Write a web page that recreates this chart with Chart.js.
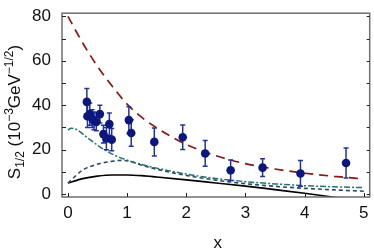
<!DOCTYPE html>
<html>
<head>
<meta charset="utf-8">
<script src="https://cdn.jsdelivr.net/npm/chart.js@4.4.1/dist/chart.umd.min.js"></script>
<style>
  html, body { margin: 0; padding: 0; background: #ffffff; }
  #wrap { width: 374px; height: 249px; }
</style>
</head>
<body>
<div id="wrap"><canvas id="chart" width="374" height="249"></canvas></div>
<script>
// measured points with symmetric errors
const dataX   = [0.32, 0.33, 0.37, 0.41, 0.44, 0.48, 0.54, 0.60, 0.65, 0.70, 0.74, 1.03, 1.07, 1.46, 1.94, 2.32, 2.75, 3.29, 3.93, 4.70];
const dataY   = [41.5, 35.0, 36.0, 34.0, 33.0, 32.5, 36.0, 27.0, 25.0, 31.5, 24.5, 33.3, 27.5, 23.5, 25.6, 18.3, 10.7, 11.9, 9.3, 14.0];
const dataErr = [6.0, 5.0, 5.0, 4.0, 4.0, 4.0, 4.0, 4.0, 5.0, 5.0, 5.0, 6.0, 6.0, 6.3, 5.5, 5.8, 4.6, 4.0, 5.8, 6.8];

// model curves
const redX   = [0, 0.25, 0.5, 0.75, 1, 1.25, 1.5, 1.75, 2, 2.5, 3, 3.5, 4, 4.5, 5];
const redY   = [80, 68, 57.5, 48.5, 40.5, 34.5, 29.8, 25.8, 22.3, 17.3, 13.7, 11.3, 9.4, 8, 6.8];

const tealX  = [0, 0.05, 0.15, 0.3, 0.5, 0.75, 1, 1.25, 1.5, 1.75, 2, 2.5, 3, 3.5, 4, 4.5, 5];
const tealY  = [28.8, 29.6, 29, 26, 22, 18, 15.3, 13.3, 11.7, 10.3, 9, 7, 5.6, 4.6, 3.8, 3.3, 2.9];

const navyX  = [0, 0.25, 0.5, 0.75, 0.9, 1, 1.25, 1.5, 1.75, 2, 2.5, 3, 3.5, 4, 4.5, 5];
const navyY  = [5, 10.8, 13.5, 14.8, 15.2, 15, 13, 11.2, 9.7, 8.4, 6.3, 4.7, 3.5, 2.6, 1.9, 1.3];

const blackX = [0, 0.25, 0.5, 0.75, 1, 1.25, 1.5, 2, 2.5, 3, 3.5, 4, 4.5, 5];
const blackY = [5, 7, 8.1, 8.6, 8.6, 8.3, 7.7, 6.4, 5.0, 3.6, 2.0, 0.4, -1.4, -3];

const xTicks = [0, 1, 2, 3, 4, 5];
const yTicks = [0, 20, 40, 60, 80];
const yMinor = [0, 10, 20, 30, 40, 50, 60, 70, 80];

const pts = (xs, ys) => xs.map((x, i) => ({ x: x, y: ys[i] }));

const FONT = "'Liberation Sans', Arial, sans-serif";

// error bars, inward ticks, frame and axis titles
const decorPlugin = {
  id: 'decor',
  beforeDatasetDraw(chart, args) {
    if (args.index !== 0) return;
    const ctx = chart.ctx;
    const xs = chart.scales.x, ys = chart.scales.y;
    ctx.save();
    ctx.strokeStyle = '#23339e';
    ctx.lineWidth = 1.5;
    dataX.forEach((x, i) => {
      const px = xs.getPixelForValue(x);
      const top = ys.getPixelForValue(dataY[i] + dataErr[i]);
      const bot = ys.getPixelForValue(dataY[i] - dataErr[i]);
      ctx.beginPath();
      ctx.moveTo(px, top); ctx.lineTo(px, bot);
      ctx.moveTo(px - 2.5, top); ctx.lineTo(px + 2.5, top);
      ctx.moveTo(px - 2.5, bot); ctx.lineTo(px + 2.5, bot);
      ctx.stroke();
    });
    ctx.restore();
  },
  afterDraw(chart) {
    const ctx = chart.ctx;
    const a = chart.chartArea;
    const xs = chart.scales.x, ys = chart.scales.y;
    ctx.save();
    // frame
    ctx.strokeStyle = '#6e6e6e';
    ctx.lineWidth = 1.5;
    ctx.strokeRect(a.left, a.top, a.right - a.left, a.bottom - a.top);
    // ticks
    ctx.strokeStyle = '#222';
    ctx.lineWidth = 1;
    ctx.beginPath();
    yMinor.forEach(v => {
      const py = Math.round(ys.getPixelForValue(v)) + 0.5;
      ctx.moveTo(a.left, py); ctx.lineTo(a.left + 4, py);
      ctx.moveTo(a.right, py); ctx.lineTo(a.right - 3, py);
    });
    xTicks.forEach(v => {
      const px = Math.round(xs.getPixelForValue(v)) + 0.5;
      ctx.moveTo(px, a.bottom); ctx.lineTo(px, a.bottom - 4);
    });
    ctx.stroke();

    // x title
    ctx.fillStyle = '#111';
    ctx.font = '17px ' + FONT;
    ctx.textAlign = 'center';
    ctx.textBaseline = 'alphabetic';
    ctx.fillText('x', (a.left + a.right) / 2 + 2, 248);

    // y title with sub/superscripts
    const parts = [
      { t: 'S', s: 17, dy: 0 },
      { t: '1/2', s: 12, dy: 4 },
      { t: ' (10', s: 17, dy: 0 },
      { t: '\u22123', s: 12, dy: -7 },
      { t: 'GeV', s: 17, dy: 0 },
      { t: '\u22121/2', s: 12, dy: -7 },
      { t: ')', s: 17, dy: 0 }
    ];
    let total = 0;
    parts.forEach(p => { ctx.font = p.s + 'px ' + FONT; p.w = ctx.measureText(p.t).width; total += p.w; });
    ctx.translate(20, 112);
    ctx.rotate(-Math.PI / 2);
    ctx.textAlign = 'left';
    let cx = -total / 2;
    parts.forEach(p => {
      ctx.font = p.s + 'px ' + FONT;
      ctx.fillText(p.t, cx, p.dy);
      cx += p.w;
    });
    ctx.restore();
  }
};

const lineDs = (label, xs, ys, color, dash, width) => ({
  type: 'line',
  label: label,
  data: pts(xs, ys),
  borderColor: color,
  borderWidth: width,
  borderDash: dash,
  pointRadius: 0,
  fill: false,
  cubicInterpolationMode: 'monotone'
});

new Chart(document.getElementById('chart').getContext('2d'), {
  type: 'scatter',
  data: {
    datasets: [
      {
        label: 'data',
        data: pts(dataX, dataY),
        backgroundColor: '#0b177c',
        borderColor: '#0b177c',
        pointRadius: 4.3,
        pointBorderWidth: 0
      },
      lineDs('red', redX, redY, '#8e1414', [9, 6], 1.7),
      lineDs('teal', tealX, tealY, '#23736c', [6, 2, 2, 2], 1.5),
      lineDs('navy', navyX, navyY, '#2a4868', [4, 3], 1.6),
      lineDs('black', blackX, blackY, '#000000', [], 1.7)
    ]
  },
  options: {
    responsive: false,
    animation: false,
    layout: { padding: { left: 0, top: 7, right: 4, bottom: 0 } },
    plugins: { legend: { display: false }, tooltip: { enabled: false } },
    scales: {
      x: {
        type: 'linear',
        min: -0.1,
        max: 5.1,
        grid: { display: false },
        border: { display: false },
        afterFit: s => { s.height = 52; },
        afterBuildTicks: s => { s.ticks = xTicks.map(v => ({ value: v })); },
        ticks: { color: '#111', padding: -2, font: { family: FONT, size: 17 } }
      },
      y: {
        type: 'linear',
        min: -1.3,
        max: 81.4,
        grid: { display: false },
        border: { display: false },
        afterFit: s => { s.width = 62; },
        afterBuildTicks: s => { s.ticks = yTicks.map(v => ({ value: v })); },
        ticks: { color: '#111', padding: 3, font: { family: FONT, size: 17 } }
      }
    }
  },
  plugins: [decorPlugin]
});
</script>
</body>
</html>
